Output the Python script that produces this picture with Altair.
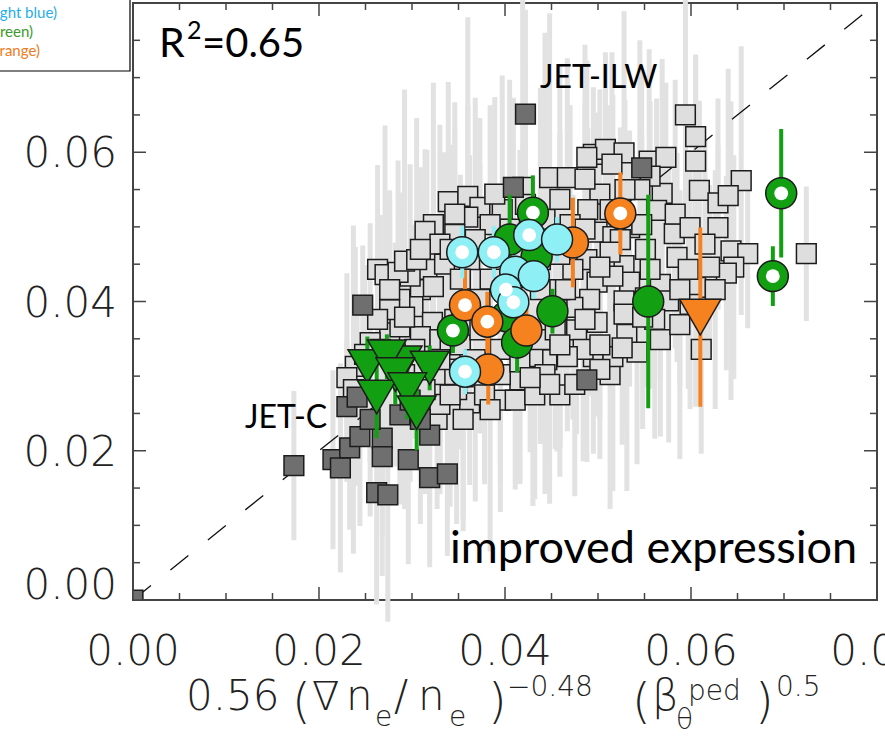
import altair as alt
import pandas as pd

# ---------------- data ----------------
# light grey squares: JET-ILW database
ilw_x = [0.0594, 0.0605, 0.0605, 0.0495, 0.0508, 0.0528, 0.0555, 0.0573, 0.0654, 0.0609,
         0.0629, 0.0640, 0.0629, 0.0643, 0.0661, 0.0646, 0.0638, 0.0724, 0.0605, 0.0585,
         0.0582, 0.0569, 0.0563, 0.0567, 0.0576, 0.0528, 0.0534, 0.0528, 0.0528, 0.0531,
         0.0542, 0.0495, 0.0513, 0.0611, 0.0556, 0.0339, 0.0360, 0.0373, 0.0360, 0.0323,
         0.0314, 0.0346, 0.0397, 0.0419, 0.0448, 0.0467, 0.0488, 0.0515, 0.0545, 0.0502,
         0.0489, 0.0499, 0.0516, 0.0534, 0.0488, 0.0473, 0.0499, 0.0516, 0.0551, 0.0556,
         0.0491, 0.0473, 0.0456, 0.0477, 0.0499, 0.0561, 0.0567, 0.0516, 0.0484, 0.0467,
         0.0445, 0.0430, 0.0316, 0.0309, 0.0298, 0.0323, 0.0301, 0.0322, 0.0309, 0.0303,
         0.0239, 0.0230, 0.0237, 0.0276, 0.0287, 0.0330, 0.0341, 0.0352, 0.0355, 0.0362,
         0.0355, 0.0348, 0.0327, 0.0255, 0.0263, 0.0271, 0.0285, 0.0292, 0.0330, 0.0305,
         0.0287, 0.0276, 0.0263, 0.0292, 0.0266, 0.0362, 0.0384, 0.0416, 0.0438, 0.0373,
         0.0395, 0.0416, 0.0443, 0.0459, 0.0395, 0.0378, 0.0368, 0.0438, 0.0454, 0.0475,
         0.0502, 0.0588, 0.0599, 0.0626, 0.0330, 0.0341, 0.0384, 0.0411, 0.0432, 0.0448,
         0.0459, 0.0443, 0.0459, 0.0405, 0.0384, 0.0368, 0.0335, 0.0352, 0.0373, 0.0438,
         0.0470, 0.0513, 0.0486, 0.0529, 0.0346, 0.0330, 0.0314, 0.0292, 0.0282, 0.0249,
         0.0524, 0.0547, 0.0583, 0.0599, 0.0615, 0.0620, 0.0597, 0.0588, 0.0551, 0.0548,
         0.0502, 0.0526, 0.0486, 0.0459, 0.0395, 0.0416, 0.0427, 0.0346, 0.0330, 0.0513,
         0.0502, 0.0465, 0.0486, 0.0459, 0.0422, 0.0389, 0.0346, 0.0309, 0.0341, 0.0276]
ilw_y = [0.0650, 0.0621, 0.0588, 0.0597, 0.0604, 0.0599, 0.0588, 0.0593, 0.0562, 0.0549,
         0.0532, 0.0542, 0.0499, 0.0468, 0.0464, 0.0446, 0.0438, 0.0464, 0.0419, 0.0459,
         0.0491, 0.0545, 0.0522, 0.0423, 0.0401, 0.0448, 0.0426, 0.0401, 0.0383, 0.0356,
         0.0332, 0.0326, 0.0302, 0.0336, 0.0568, 0.0534, 0.0541, 0.0526, 0.0513, 0.0503,
         0.0494, 0.0490, 0.0523, 0.0553, 0.0566, 0.0566, 0.0593, 0.0584, 0.0550, 0.0544,
         0.0523, 0.0493, 0.0487, 0.0499, 0.0456, 0.0443, 0.0426, 0.0434, 0.0470, 0.0443,
         0.0403, 0.0392, 0.0389, 0.0362, 0.0372, 0.0376, 0.0349, 0.0326, 0.0336, 0.0326,
         0.0322, 0.0326, 0.0443, 0.0416, 0.0434, 0.0420, 0.0393, 0.0372, 0.0353, 0.0336,
         0.0313, 0.0298, 0.0282, 0.0358, 0.0366, 0.0349, 0.0336, 0.0342, 0.0299, 0.0264,
         0.0242, 0.0282, 0.0242, 0.0345, 0.0443, 0.0436, 0.0439, 0.0454, 0.0477, 0.0456,
         0.0403, 0.0389, 0.0376, 0.0379, 0.0336, 0.0456, 0.0430, 0.0443, 0.0416, 0.0362,
         0.0336, 0.0295, 0.0302, 0.0275, 0.0268, 0.0275, 0.0322, 0.0349, 0.0362, 0.0289,
         0.0309, 0.0369, 0.0396, 0.0416, 0.0262, 0.0275, 0.0255, 0.0268, 0.0275, 0.0289,
         0.0416, 0.0510, 0.0537, 0.0497, 0.0503, 0.0483, 0.0450, 0.0430, 0.0403, 0.0456,
         0.0503, 0.0523, 0.0564, 0.0550, 0.0376, 0.0302, 0.0282, 0.0302, 0.0329, 0.0329,
         0.0483, 0.0503, 0.0517, 0.0499, 0.0477, 0.0446, 0.0443, 0.0416, 0.0405, 0.0379,
         0.0342, 0.0338, 0.0376, 0.0342, 0.0302, 0.0319, 0.0298, 0.0302, 0.0322, 0.0466,
         0.0446, 0.0416, 0.0497, 0.0463, 0.0530, 0.0544, 0.0517, 0.0470, 0.0470, 0.0416]
ilw_err = [0.016, 0.011, 0.014, 0.009, 0.013, 0.019, 0.015, 0.010, 0.018, 0.012,
           0.014, 0.017, 0.011, 0.020, 0.010, 0.015, 0.013, 0.009, 0.016, 0.014,
           0.011, 0.018, 0.015, 0.013, 0.019, 0.010, 0.014, 0.017, 0.012, 0.021,
           0.015, 0.013, 0.018, 0.014, 0.010, 0.016, 0.024, 0.012, 0.015, 0.019,
           0.011, 0.014, 0.018, 0.026, 0.022, 0.016, 0.013, 0.015, 0.020, 0.014,
           0.011, 0.016, 0.019, 0.013, 0.015, 0.010, 0.018, 0.014, 0.011, 0.016,
           0.013, 0.015, 0.019, 0.014, 0.011, 0.016, 0.013, 0.018, 0.015, 0.010,
           0.014, 0.020, 0.016, 0.012, 0.015, 0.018, 0.011, 0.014, 0.019, 0.012,
           0.016, 0.014, 0.022, 0.015, 0.018, 0.012, 0.016, 0.014, 0.019, 0.011,
           0.015, 0.018, 0.012, 0.016, 0.014, 0.020, 0.015, 0.023, 0.016, 0.019,
           0.014, 0.016, 0.012, 0.015, 0.018, 0.014, 0.011, 0.016, 0.015, 0.012,
           0.018, 0.014, 0.016, 0.011, 0.015, 0.012, 0.019, 0.014, 0.016, 0.015,
           0.012, 0.018, 0.014, 0.016, 0.011, 0.015, 0.019, 0.012, 0.014, 0.016,
           0.021, 0.025, 0.018, 0.020, 0.016, 0.019, 0.015, 0.014, 0.018, 0.023,
           0.016, 0.014, 0.018, 0.012, 0.015, 0.016, 0.014, 0.018, 0.015, 0.012,
           0.015, 0.012, 0.018, 0.010, 0.014, 0.011, 0.016, 0.013, 0.012, 0.015,
           0.010, 0.013, 0.011, 0.014, 0.012, 0.016, 0.010, 0.013, 0.015, 0.012,
           0.011, 0.014, 0.017, 0.012, 0.019, 0.013, 0.015, 0.011, 0.014, 0.012]

# dark grey squares: JET-C database
jc_x = [0.0173, 0.0215, 0.0223, 0.0233, 0.0268, 0.0268, 0.0296, 0.0319, 0.0338, 0.0262,
        0.0274, 0.0319, 0.0244, 0.0230, 0.0241, 0.0247, 0.0422, 0.0409, 0.0547, 0.0488,
        0.0287, 0.0309, 0.0255, 0.0298]
jc_y = [0.0180, 0.0188, 0.0177, 0.0204, 0.0217, 0.0192, 0.0188, 0.0164, 0.0169, 0.0144,
        0.0141, 0.0221, 0.0219, 0.0259, 0.0272, 0.0395, 0.0651, 0.0553, 0.0579, 0.0295,
        0.0248, 0.0242, 0.0242, 0.0268]
jc_err = [0.010, 0.012, 0.014, 0.011, 0.013, 0.016, 0.014, 0.012, 0.011, 0.015,
          0.017, 0.010, 0.012, 0.009, 0.011, 0.008, 0.014, 0.012, 0.013, 0.011,
          0.012, 0.014, 0.013, 0.011]
origin_x = [0.0]
origin_y = [0.0]

# light blue circles
lb_x = [0.0354, 0.0388, 0.0426, 0.0456, 0.0411, 0.0431, 0.0401, 0.0409, 0.0357]
lb_y = [0.0466, 0.0466, 0.0489, 0.0483, 0.0440, 0.0434, 0.0416, 0.0399, 0.0306]
lb_err = [0.0035, 0.0035, 0.0035, 0.003, 0.003, 0.003, 0.003, 0.003, 0.003]
lb_open = [1, 1, 1, 0, 0, 0, 1, 1, 1]

# green circles
gr_x = [0.0434, 0.0405, 0.0402, 0.0413, 0.0430, 0.0344, 0.0451, 0.0554, 0.0697, 0.0688]
gr_y = [0.0460, 0.0483, 0.0380, 0.0345, 0.0519, 0.0361, 0.0387, 0.0400, 0.0545, 0.0434]
gr_err = [0.004, 0.006, 0.003, 0.004, 0.005, 0.003, 0.003, 0.0143, 0.0086, 0.004]
gr_open = [0, 0, 0, 0, 1, 1, 0, 0, 1, 1]

# orange circles
or_x = [0.0524, 0.0473, 0.0357, 0.0381, 0.0423, 0.0382]
or_y = [0.0518, 0.0479, 0.0395, 0.0373, 0.0361, 0.0309]
or_err = [0.0055, 0.006, 0.0047, 0.004, 0.003, 0.0047]
or_open = [1, 0, 1, 1, 0, 0]

# orange triangle
ot_x = [0.0610]
ot_y = [0.0379]
ot_err = [0.012]

# green triangles (JET-C)
gt_x = [0.0252, 0.0290, 0.0319, 0.0273, 0.0282, 0.0262, 0.0295, 0.0305]
gt_y = [0.0313, 0.0318, 0.0311, 0.0326, 0.0302, 0.0272, 0.0282, 0.0251]
gt_err = [0.004, 0.003, 0.003, 0.003, 0.004, 0.0055, 0.004, 0.005]

diag = [0.0, 0.08]
x_major = [0.0, 0.02, 0.04, 0.06, 0.08]
x_minor = [0.005, 0.01, 0.015, 0.025, 0.03, 0.035, 0.045, 0.05, 0.055, 0.065, 0.07, 0.075]
y_labels = [0.02, 0.04, 0.06]
y_zero = [0.0]

# ---------------- styling ----------------
W, H = 744, 597
GREEN = "#12a012"
ORANGE = "#f5821f"
CYAN = "#8eeff5"
LGREY = "#dedede"
DGREY = "#6f6f6f"
EDGE = "#1c1c1c"
TICK = "#444444"
NUMFONT = "DejaVu Sans"
NUMW = 200
TXTFONT = "Lato"

xs = alt.Scale(domain=[0, 0.08], nice=False, zero=False)
ys = alt.Scale(domain=[0, 0.08], nice=False, zero=False)
ONE = alt.Data(values=[{}])


def frame(x, y, err=None, flag=None):
    d = pd.DataFrame({"x": x, "y": y})
    if err is not None:
        d["lo"] = [a - e for a, e in zip(y, err)]
        d["hi"] = [a + e for a, e in zip(y, err)]
    if flag is not None:
        d["open"] = flag
    return d


def bars(df, color, width):
    return alt.Chart(df).mark_rule(color=color, strokeWidth=width).encode(
        x=alt.X("x:Q", scale=xs, axis=None),
        y=alt.Y("lo:Q", scale=ys, axis=None),
        y2="hi:Q",
    )


def sym(df, shape, size, fill, stroke=EDGE, sw=1.5, clip=False):
    return alt.Chart(df).mark_point(
        shape=shape, size=size, filled=True, fill=fill, stroke=stroke,
        strokeWidth=sw, opacity=1, clip=clip).encode(
        x=alt.X("x:Q", scale=xs, axis=None), y=alt.Y("y:Q", scale=ys, axis=None))


def holes(df, size=190):
    d = df[df["open"] == 1]
    return sym(d, "circle", size, "white", stroke="white", sw=0)


def txt(s, x, y, size, color="#000", font=TXTFONT, weight=400, align="left"):
    return alt.Chart(ONE).mark_text(
        text=s, fontSize=size, font=font, fontWeight=weight, color=color,
        align=align, baseline="alphabetic").encode(x=alt.value(x), y=alt.value(y))


ilw = frame(ilw_x, ilw_y, ilw_err)
jc = frame(jc_x, jc_y, jc_err)
lb = frame(lb_x, lb_y, lb_err, lb_open)
gr = frame(gr_x, gr_y, gr_err, gr_open)
orc = frame(or_x, or_y, or_err, or_open)
ot = frame(ot_x, ot_y, ot_err)
gt = frame(gt_x, gt_y, gt_err)
org = frame(origin_x, origin_y)

layers = []
layers.append(bars(ilw, "#e2e2e2", 5))
layers.append(bars(jc, "#e2e2e2", 5))
layers.append(alt.Chart(pd.DataFrame({"x": diag, "y": diag})).mark_line(
    color="#111", strokeWidth=1.3, strokeDash=[23, 25]).encode(
    x=alt.X("x:Q", scale=xs, axis=None), y=alt.Y("y:Q", scale=ys, axis=None)))
layers.append(sym(ilw, "square", 390, LGREY))
layers.append(sym(jc, "square", 390, DGREY))
layers.append(sym(org, "square", 390, DGREY, clip=True))
layers.append(bars(gt, GREEN, 4))
layers.append(bars(gr, GREEN, 4))
layers.append(bars(orc, ORANGE, 4))
layers.append(bars(lb, CYAN, 4))
layers.append(bars(ot, ORANGE, 4))
layers.append(sym(gt, "triangle-down", 1500, GREEN))
layers.append(sym(gr, "circle", 960, GREEN))
layers.append(holes(gr))
layers.append(sym(orc, "circle", 960, ORANGE))
layers.append(holes(orc))
layers.append(sym(lb, "circle", 960, CYAN))
layers.append(holes(lb))
layers.append(sym(ot, "triangle-down", 1700, ORANGE))

# inward ticks on all four sides
xmaj = pd.DataFrame({"v": x_major})
xmin = pd.DataFrame({"v": x_minor})
for d, L in ((xmaj, 13), (xmin, 7)):
    layers.append(alt.Chart(d).mark_rule(color=TICK, strokeWidth=1.5).encode(
        x=alt.X("v:Q", scale=xs, axis=None), y=alt.value(H), y2=alt.value(H - L)))
    layers.append(alt.Chart(d).mark_rule(color=TICK, strokeWidth=1.5).encode(
        x=alt.X("v:Q", scale=xs, axis=None), y=alt.value(0), y2=alt.value(L)))
    layers.append(alt.Chart(d).mark_rule(color=TICK, strokeWidth=1.5).encode(
        y=alt.Y("v:Q", scale=ys, axis=None), x=alt.value(0), x2=alt.value(L)))
    layers.append(alt.Chart(d).mark_rule(color=TICK, strokeWidth=1.5).encode(
        y=alt.Y("v:Q", scale=ys, axis=None), x=alt.value(W), x2=alt.value(W - L)))

# tick labels
xl = pd.DataFrame({"v": x_major, "t": ["%.2f" % v for v in x_major]})
yl = pd.DataFrame({"v": y_labels, "t": ["%.2f" % v for v in y_labels]})
y0 = pd.DataFrame({"v": y_zero, "t": ["%.2f" % v for v in y_zero]})
layers.append(alt.Chart(xl).mark_text(
    fontSize=42, font=NUMFONT, fontWeight=NUMW, color="#222", align="center",
    baseline="alphabetic").encode(
    x=alt.X("v:Q", scale=xs, axis=None), y=alt.value(H + 65), text="t:N"))
layers.append(alt.Chart(yl).mark_text(
    fontSize=42, font=NUMFONT, fontWeight=NUMW, color="#222", align="right",
    baseline="alphabetic", dy=15).encode(
    y=alt.Y("v:Q", scale=ys, axis=None), x=alt.value(-16), text="t:N"))
layers.append(alt.Chart(y0).mark_text(
    fontSize=42, font=NUMFONT, fontWeight=NUMW, color="#222", align="right",
    baseline="alphabetic", dy=-1).encode(
    y=alt.Y("v:Q", scale=ys, axis=None), x=alt.value(-16), text="t:N"))

# annotations inside the plot
layers.append(txt("R", 26, 54, 41))
layers.append(txt("2", 54, 36, 25))
layers.append(txt("=0.65", 69, 54, 40))
layers.append(txt("JET-ILW", 407, 85, 32))
layers.append(txt("JET-C", 112, 425, 32))
layers.append(txt("improved expression", 317, 560, 45))

# legend box (cropped at the left edge)
layers.append(alt.Chart(ONE).mark_rect(fill="white", stroke="#000", strokeWidth=1.2).encode(
    x=alt.value(-300), x2=alt.value(-3), y=alt.value(-100), y2=alt.value(68)))
layers.append(txt("JET-ILW (light blue)", -76, 15, 15, color="#27aee8", align="right"))
layers.append(txt("JET-ILW (green)", -100, 34, 15, color="#3a9a2a", align="right"))
layers.append(txt("JET-ILW (orange)", -93, 53, 15, color="#ef7b22", align="right"))

# x-axis title built from pieces (sub/superscripts); positions in page pixels
T = "#222"
for s, x, y, fs in [
    ("0.56", 186, 710, 42), ("(", 292, 718, 48), ("\u2207", 312, 710, 40),
    ("n", 346, 710, 42), ("e", 375, 726, 28), ("/", 394, 710, 42),
    ("n", 418, 710, 42), ("e", 449, 726, 28), (")", 488, 718, 48),
    ("\u22120.48", 507, 696, 28),
    ("(", 632, 718, 48), ("\u03b2", 652, 710, 42), ("\u03b8", 676, 729, 28),
    ("ped", 688, 700, 28), (")", 755, 718, 48), ("0.5", 776, 696, 28),
]:
    layers.append(txt(s, x - 133, y - 3, fs, color=T, font=NUMFONT, weight=NUMW))

chart = alt.layer(*layers).properties(
    width=W, height=H,
    padding={"left": 133, "top": 3, "right": 8, "bottom": 138},
    autosize=alt.AutoSizeParams(type="none"),
    background="white",
).configure_view(stroke="#444", strokeWidth=2)

chart.save("out.html", embed_options={"renderer": "svg", "actions": False})
